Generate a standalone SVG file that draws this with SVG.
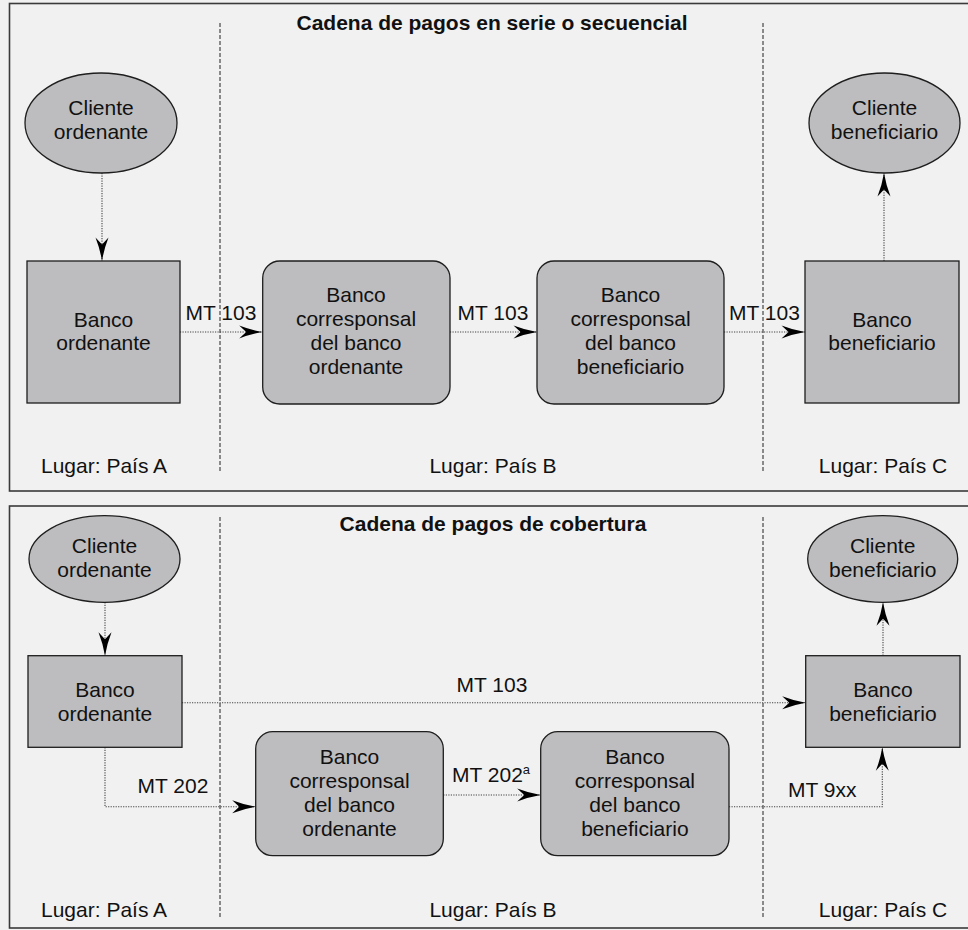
<svg xmlns="http://www.w3.org/2000/svg" width="968" height="930" viewBox="0 0 968 930">
  <style>
    .panel { fill: #f1f1f1; stroke: #3a3a3a; stroke-width: 1.6; }
    .node { fill: #bdbdbf; stroke: #1e1e1e; stroke-width: 1.3; }
    .txt { font-family: "Liberation Sans", Arial, Helvetica, sans-serif; font-size: 21px; fill: #111; }
    .mid { text-anchor: middle; }
    .title { font-weight: bold; }
    .divider { stroke: #222; stroke-width: 1; stroke-dasharray: 4 2; fill: none; }
    .flow { stroke: #444; stroke-width: 1.1; stroke-dasharray: 1.2 1.3; fill: none; }
  </style>
  <defs>
    <!-- notched (stealth) arrowhead, tip at the end of the line -->
    <marker id="arrow" markerUnits="userSpaceOnUse" markerWidth="25" markerHeight="15" refX="24" refY="7" orient="auto">
      <path d="M0.5,0.5 Q12,5 24,7 Q12,9 0.5,13.5 L7.5,7 Z" fill="#000"/>
    </marker>
  </defs>

  <rect x="0" y="0" width="968" height="930" fill="#f1f1f1"/>

  <!-- Panel 1: serial payment chain -->
  <g id="panel-serie">
    <rect class="panel" x="9.5" y="3.5" width="970" height="487.5"/>
    <text class="txt title mid" x="492" y="30">Cadena de pagos en serie o secuencial</text>
    <line class="divider" x1="220" y1="23" x2="220" y2="473"/>
    <line class="divider" x1="763" y1="23" x2="763" y2="473"/>
    <text class="txt" x="41" y="473">Lugar: País A</text>
    <text class="txt mid" x="493" y="473">Lugar: País B</text>
    <text class="txt mid" x="883" y="473">Lugar: País C</text>
  </g>

  <!-- Panel 2: cover payment chain -->
  <g id="panel-cobertura">
    <rect class="panel" x="9.5" y="506" width="970" height="422"/>
    <text class="txt title mid" x="493" y="531">Cadena de pagos de cobertura</text>
    <line class="divider" x1="220" y1="517" x2="220" y2="917"/>
    <line class="divider" x1="763" y1="517" x2="763" y2="917"/>
    <text class="txt" x="41" y="917">Lugar: País A</text>
    <text class="txt mid" x="493" y="917">Lugar: País B</text>
    <text class="txt mid" x="883" y="917">Lugar: País C</text>
  </g>

  <!-- Connectors -->
  <g id="connectors">
    <!-- serial chain -->
    <line class="flow" x1="102" y1="173" x2="102" y2="261" marker-end="url(#arrow)"/>
    <line class="flow" x1="180" y1="332" x2="262.7" y2="332" marker-end="url(#arrow)"/>
    <line class="flow" x1="450" y1="332" x2="537" y2="332" marker-end="url(#arrow)"/>
    <line class="flow" x1="724" y1="332" x2="805" y2="332" marker-end="url(#arrow)"/>
    <line class="flow" x1="884" y1="261" x2="884" y2="173" marker-end="url(#arrow)"/>
    <text class="txt mid" x="221" y="320">MT 103</text>
    <text class="txt mid" x="493" y="320">MT 103</text>
    <text class="txt mid" x="764.5" y="320">MT 103</text>

    <!-- cover chain -->
    <line class="flow" x1="105" y1="602.3" x2="105" y2="655.7" marker-end="url(#arrow)"/>
    <line class="flow" x1="182" y1="702.7" x2="805.7" y2="702.7" marker-end="url(#arrow)"/>
    <polyline class="flow" points="105,747.3 105,806.7 255.7,806.7" marker-end="url(#arrow)"/>
    <line class="flow" x1="443.3" y1="795" x2="540.7" y2="795" marker-end="url(#arrow)"/>
    <polyline class="flow" points="729,806.7 882.3,806.7 882.3,747.3" marker-end="url(#arrow)"/>
    <line class="flow" x1="883" y1="655.7" x2="883" y2="602.3" marker-end="url(#arrow)"/>
    <text class="txt mid" x="492" y="692">MT 103</text>
    <text class="txt mid" x="173" y="792.7">MT 202</text>
    <text class="txt" x="452" y="781.7">MT 202<tspan font-size="13" dy="-8">a</tspan></text>
    <text class="txt mid" x="822.3" y="796.7">MT 9xx</text>
  </g>

  <!-- Nodes: serial chain -->
  <g id="s-cliente-ordenante">
    <ellipse class="node" cx="101" cy="123" rx="76" ry="50"/>
    <text class="txt mid" x="101" y="115">Cliente</text>
    <text class="txt mid" x="101" y="139">ordenante</text>
  </g>
  <g id="s-banco-ordenante">
    <rect class="node" x="27" y="261" width="153" height="142"/>
    <text class="txt mid" x="103.5" y="327">Banco</text>
    <text class="txt mid" x="103.5" y="350">ordenante</text>
  </g>
  <g id="s-corresponsal-ordenante">
    <rect class="node" x="262.7" y="261" width="187.3" height="143" rx="17"/>
    <text class="txt mid" x="356" y="302">Banco</text>
    <text class="txt mid" x="356" y="326">corresponsal</text>
    <text class="txt mid" x="356" y="350">del banco</text>
    <text class="txt mid" x="356" y="374">ordenante</text>
  </g>
  <g id="s-corresponsal-beneficiario">
    <rect class="node" x="537" y="261" width="187" height="143" rx="17"/>
    <text class="txt mid" x="630.5" y="302">Banco</text>
    <text class="txt mid" x="630.5" y="326">corresponsal</text>
    <text class="txt mid" x="630.5" y="350">del banco</text>
    <text class="txt mid" x="630.5" y="374">beneficiario</text>
  </g>
  <g id="s-banco-beneficiario">
    <rect class="node" x="805" y="261" width="154" height="142"/>
    <text class="txt mid" x="882" y="327">Banco</text>
    <text class="txt mid" x="882" y="350">beneficiario</text>
  </g>
  <g id="s-cliente-beneficiario">
    <ellipse class="node" cx="884.5" cy="123" rx="75.5" ry="50"/>
    <text class="txt mid" x="884.5" y="115">Cliente</text>
    <text class="txt mid" x="884.5" y="139">beneficiario</text>
  </g>

  <!-- Nodes: cover chain -->
  <g id="c-cliente-ordenante">
    <ellipse class="node" cx="104.5" cy="559" rx="75.5" ry="43.3"/>
    <text class="txt mid" x="104.5" y="552.7">Cliente</text>
    <text class="txt mid" x="104.5" y="576.7">ordenante</text>
  </g>
  <g id="c-banco-ordenante">
    <rect class="node" x="28" y="655.7" width="154" height="91.6"/>
    <text class="txt mid" x="105" y="697.3">Banco</text>
    <text class="txt mid" x="105" y="720.7">ordenante</text>
  </g>
  <g id="c-corresponsal-ordenante">
    <rect class="node" x="255.7" y="731.7" width="187.6" height="124" rx="17"/>
    <text class="txt mid" x="349.5" y="764">Banco</text>
    <text class="txt mid" x="349.5" y="788">corresponsal</text>
    <text class="txt mid" x="349.5" y="812">del banco</text>
    <text class="txt mid" x="349.5" y="836">ordenante</text>
  </g>
  <g id="c-corresponsal-beneficiario">
    <rect class="node" x="540.7" y="731.7" width="188.3" height="124" rx="17"/>
    <text class="txt mid" x="634.9" y="764">Banco</text>
    <text class="txt mid" x="634.9" y="788">corresponsal</text>
    <text class="txt mid" x="634.9" y="812">del banco</text>
    <text class="txt mid" x="634.9" y="836">beneficiario</text>
  </g>
  <g id="c-banco-beneficiario">
    <rect class="node" x="805.7" y="655.7" width="154.3" height="91.6"/>
    <text class="txt mid" x="882.9" y="697.3">Banco</text>
    <text class="txt mid" x="882.9" y="720.7">beneficiario</text>
  </g>
  <g id="c-cliente-beneficiario">
    <ellipse class="node" cx="882.7" cy="559" rx="75" ry="43.3"/>
    <text class="txt mid" x="882.7" y="552.7">Cliente</text>
    <text class="txt mid" x="882.7" y="576.7">beneficiario</text>
  </g>
</svg>
